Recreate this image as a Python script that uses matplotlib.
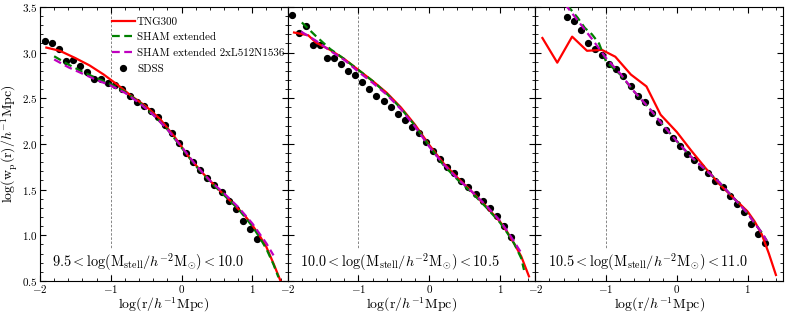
import numpy as np
import matplotlib
matplotlib.use('Agg')
import matplotlib.pyplot as plt
from matplotlib.ticker import MultipleLocator

plt.rcParams['font.family'] = 'cmr10'
plt.rcParams['mathtext.fontset'] = 'cm'
plt.rcParams['axes.formatter.use_mathtext'] = True
plt.rcParams['axes.unicode_minus'] = True

# ---- data ----
# SDSS points (x = log r)
sdss_x1 = np.round(-1.935 + 0.1 * np.arange(31), 3)
sdss_y1 = [3.13, 3.11, 3.04, 2.91, 2.92, 2.85, 2.79, 2.71, 2.71, 2.67, 2.65,
           2.60, 2.53, 2.46, 2.41, 2.36, 2.29, 2.21, 2.12, 2.01, 1.90, 1.80,
           1.72, 1.63, 1.55, 1.47, 1.38, 1.29, 1.16, 1.07, 0.96]
sdss_x2 = np.round(-1.945 + 0.1 * np.arange(32), 3)
sdss_y2 = [3.41, 3.21, 3.29, 3.08, 3.08, 2.94, 2.94, 2.87, 2.80, 2.76, 2.675,
           2.60, 2.53, 2.47, 2.40, 2.33, 2.265, 2.19, 2.115, 2.02, 1.925, 1.83,
           1.75, 1.68, 1.59, 1.53, 1.45, 1.375, 1.295, 1.21, 1.10, 0.98]
sdss_x3 = np.round(-1.555 + 0.1 * np.arange(29), 3)
sdss_y3 = [3.39, 3.35, 3.25, 3.11, 3.04, 2.975, 2.88, 2.82, 2.745, 2.63, 2.525,
           2.46, 2.335, 2.24, 2.15, 2.07, 1.98, 1.89, 1.82, 1.745, 1.68, 1.59,
           1.525, 1.43, 1.34, 1.25, 1.12, 1.01, 0.92]

# TNG300
tng_x1 = [-1.91, -1.72, -1.5, -1.3, -1.1, -0.9, -0.7, -0.5, -0.3, -0.1, 0.1, 0.3,
          0.5, 0.7, 0.9, 1.0, 1.1, 1.2, 1.3, 1.42]
tng_y1 = [3.055, 3.02, 2.94, 2.86, 2.76, 2.645, 2.52, 2.41, 2.27, 2.08, 1.86, 1.68,
          1.52, 1.37, 1.21, 1.11, 1.00, 0.87, 0.69, 0.46]
tng_x2 = [-1.91, -1.71, -1.6, -1.4, -1.2, -1.0, -0.8, -0.6, -0.4, -0.2, 0.0, 0.2,
          0.4, 0.6, 0.8, 1.0, 1.1, 1.2, 1.3, 1.41]
tng_y2 = [3.22, 3.19, 3.11, 3.03, 2.93, 2.81, 2.69, 2.56, 2.40, 2.21, 1.99, 1.79,
          1.63, 1.48, 1.32, 1.15, 1.04, 0.91, 0.77, 0.55]
tng_x3 = [-1.90, -1.69, -1.48, -1.27, -1.06, -0.87, -0.65, -0.43, -0.23, 0.0, 0.2,
          0.4, 0.6, 0.8, 1.0, 1.1, 1.2, 1.3, 1.40]
tng_y3 = [3.16, 2.89, 3.175, 3.02, 3.03, 2.955, 2.76, 2.63, 2.32, 2.13, 1.93,
          1.74, 1.56, 1.41, 1.26, 1.15, 1.01, 0.80, 0.565]

# SHAM extended
sham_x1 = [-1.8, -1.6, -1.4, -1.2, -1.0, -0.8, -0.6, -0.4, -0.2, 0.0, 0.2, 0.4,
           0.6, 0.8, 1.0, 1.1, 1.2, 1.3, 1.37]
sham_y1 = [2.96, 2.87, 2.79, 2.72, 2.655, 2.57, 2.46, 2.32, 2.16, 1.96, 1.76, 1.59,
           1.44, 1.29, 1.10, 0.98, 0.85, 0.68, 0.54]
sham_x2 = [-1.8, -1.6, -1.4, -1.2, -1.0, -0.8, -0.6, -0.4, -0.2, 0.0, 0.2, 0.4,
           0.6, 0.8, 1.0, 1.1, 1.2, 1.3, 1.34]
sham_y2 = [3.33, 3.18, 3.04, 2.93, 2.81, 2.69, 2.55, 2.39, 2.20, 1.98, 1.77, 1.61,
           1.47, 1.31, 1.14, 1.03, 0.91, 0.75, 0.62]
sham_x3 = [-1.55, -1.4, -1.3, -1.2, -1.1, -1.0, -0.9, -0.8, -0.6, -0.4, -0.2, 0.0,
           0.2, 0.4, 0.6, 0.8, 1.0, 1.1, 1.2, 1.27]
sham_y3 = [3.52, 3.38, 3.27, 3.20, 3.10, 2.90, 2.83, 2.76, 2.57, 2.40, 2.21, 2.03,
           1.86, 1.72, 1.58, 1.41, 1.24, 1.13, 1.03, 0.94]

# SHAM extended 2xL512N1536
big_x1 = [-1.8, -1.6, -1.4, -1.2, -1.0, -0.8, -0.6, -0.4, -0.2, 0.0, 0.2, 0.4,
          0.6, 0.8, 1.0, 1.1, 1.2, 1.3]
big_y1 = [2.925, 2.84, 2.77, 2.70, 2.64, 2.56, 2.45, 2.32, 2.16, 1.97, 1.77, 1.60,
          1.46, 1.31, 1.13, 1.02, 0.91, 0.78]
big_x2 = [-1.81, -1.6, -1.4, -1.2, -1.0, -0.8, -0.6, -0.4, -0.2, 0.0, 0.2, 0.4,
          0.6, 0.8, 1.0, 1.1, 1.2, 1.29]
big_y2 = [3.23, 3.13, 3.02, 2.92, 2.79, 2.67, 2.54, 2.38, 2.19, 1.97, 1.78, 1.62,
          1.48, 1.33, 1.16, 1.05, 0.93, 0.82]
big_x3 = [-1.58, -1.4, -1.2, -1.0, -0.8, -0.6, -0.4, -0.2, 0.0, 0.2, 0.4, 0.6,
          0.8, 1.0, 1.1, 1.2, 1.27]
big_y3 = [3.53, 3.35, 3.15, 2.94, 2.77, 2.57, 2.40, 2.21, 2.03, 1.86, 1.72, 1.58,
          1.41, 1.24, 1.13, 1.03, 0.94]

bins = [r'$9.5 < \log(\mathrm{M_{stell}}/h^{-2}\mathrm{M_{\odot}}) < 10.0$',
        r'$10.0 < \log(\mathrm{M_{stell}}/h^{-2}\mathrm{M_{\odot}}) < 10.5$',
        r'$10.5 < \log(\mathrm{M_{stell}}/h^{-2}\mathrm{M_{\odot}}) < 11.0$']

panels = [
    (sdss_x1, sdss_y1, tng_x1, tng_y1, sham_x1, sham_y1, big_x1, big_y1),
    (sdss_x2, sdss_y2, tng_x2, tng_y2, sham_x2, sham_y2, big_x2, big_y2),
    (sdss_x3, sdss_y3, tng_x3, tng_y3, sham_x3, sham_y3, big_x3, big_y3),
]

fig, axes = plt.subplots(1, 3, figsize=(7.89, 3.16), dpi=100, sharey=True)
fig.subplots_adjust(left=0.0507, right=0.9924, bottom=0.111, top=0.978, wspace=0)

for i, ax in enumerate(axes):
    sx, sy, tx, ty, hx, hy, bx, by = panels[i]
    ax.axvline(-1, color='0.45', lw=0.6, ls=(0, (3, 2)), zorder=1)
    l1, = ax.plot(tx, ty, color='red', lw=1.6, label='TNG300', zorder=3)
    l2, = ax.plot(hx, hy, color='green', lw=1.6, ls=(0, (3.5, 2)),
                  label='SHAM extended', zorder=3)
    l3, = ax.plot(bx, by, color='m', lw=1.6, ls=(0, (3.5, 2)),
                  label='SHAM extended 2xL512N1536', zorder=3)
    l4, = ax.plot(sx, sy, 'o', color='black', ms=4.2, ls='none', label='SDSS',
                  zorder=2)
    ax.set_xlim(-2, 1.5)
    ax.set_ylim(0.5, 3.5)
    ax.xaxis.set_major_locator(MultipleLocator(1))
    ax.xaxis.set_minor_locator(MultipleLocator(0.2))
    ax.yaxis.set_major_locator(MultipleLocator(0.5))
    ax.yaxis.set_minor_locator(MultipleLocator(0.1))
    ax.tick_params(which='both', direction='in', top=True, right=True,
                   labelsize=8, pad=1.5)
    ax.tick_params(which='major', length=4.5, width=0.8)
    ax.tick_params(which='minor', length=2.2, width=0.6)
    ax.set_xlabel(r'$\log(\mathrm{r}/h^{-1}\mathrm{Mpc})$', fontsize=10, labelpad=0.5)
    ax.text(0.05, 0.07, bins[i], transform=ax.transAxes, fontsize=10.3,
            va='center', ha='left', zorder=5,
            bbox=dict(facecolor='white', edgecolor='none', pad=1))
    if i == 0:
        ax.set_ylabel(r'$\log(\mathrm{w_p(r)}/h^{-1}\mathrm{Mpc})$', fontsize=10,
                      labelpad=2)
        ax.legend(handles=[l1, l2, l3, l4], loc='upper left',
                  bbox_to_anchor=(0.25, 1.0), frameon=False, fontsize=7.9,
                  handlelength=2.1, numpoints=1, labelspacing=0.55,
                  handletextpad=0.2)

for ax in axes:
    ax.yaxis.set_major_formatter(plt.FuncFormatter(lambda v, p: f'${v:.1f}$'))

fig.savefig('out.png', dpi=100)
